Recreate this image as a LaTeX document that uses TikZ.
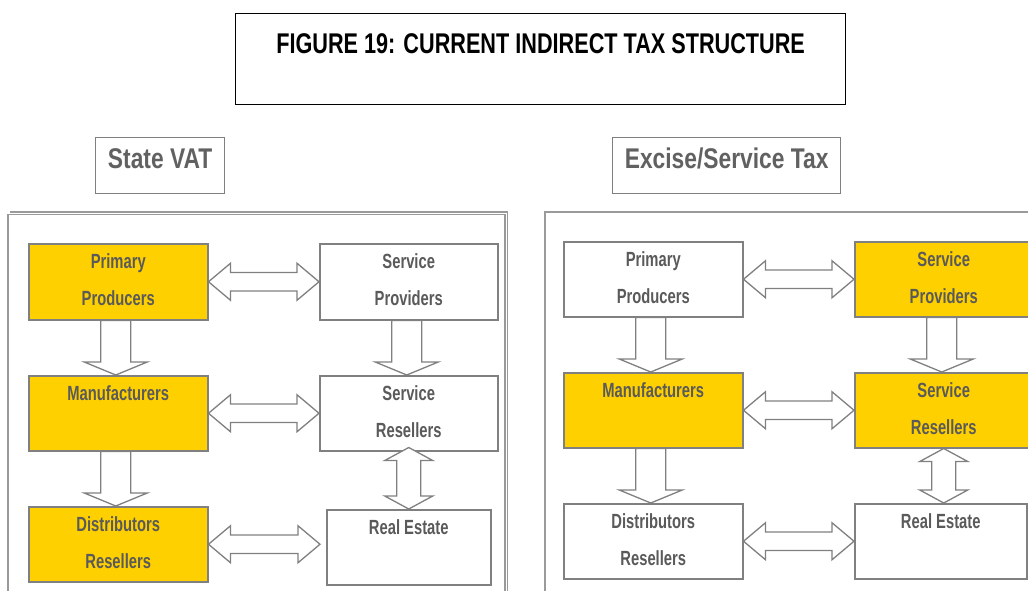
\documentclass[tikz,border=0pt]{standalone}
\usepackage{fontspec}
\setmainfont{Liberation Sans}[FakeStretch=0.8]
\newfontfamily\boxfnt{Liberation Sans}[FakeStretch=0.72]
\newfontfamily\ttlfnt{Liberation Sans}[FakeStretch=0.76]
\usetikzlibrary{calc}
\definecolor{gry}{HTML}{808080}
\definecolor{pnl}{HTML}{9A9A9A}
\definecolor{txt}{HTML}{5A5A5A}
\definecolor{hdt}{HTML}{616161}
\definecolor{ylw}{HTML}{FFD000}
\newcommand\hdarrow[2]{\draw[arr] let \p1=(#1), \p2=(#2) in
  (\x1,\y1) -- (\x1+22pt,\y1+18.5pt) -- (\x1+22pt,\y1+9.2pt) -- (\x2-22pt,\y1+9.2pt) -- (\x2-22pt,\y1+18.5pt) -- (\x2,\y1)
  -- (\x2-22pt,\y1-18.5pt) -- (\x2-22pt,\y1-9.2pt) -- (\x1+22pt,\y1-9.2pt) -- (\x1+22pt,\y1-18.5pt) -- cycle;}
\newcommand\dnarrow[3]{\draw[arr] let \p1=($(#1.south)+(#3,0)$), \p2=(#2.north) in
  (\x1-15pt,\y1) -- (\x1+15pt,\y1) -- (\x1+15pt,\y2+13pt) -- (\x1+31.5pt,\y2+13pt) -- (\x1,\y2)
  -- (\x1-31.5pt,\y2+13pt) -- (\x1-15pt,\y2+13pt) -- cycle;}
\newcommand\vdarrow[3]{\draw[arr] let \p1=($(#1.south)+(0,-#3)$), \p2=(#2.north) in
  (\x1,\y1) -- (\x1+24pt,\y1-13pt) -- (\x1+12pt,\y1-13pt) -- (\x1+12pt,\y2+13pt) -- (\x1+24pt,\y2+13pt) -- (\x1,\y2)
  -- (\x1-24pt,\y2+13pt) -- (\x1-12pt,\y2+13pt) -- (\x1-12pt,\y1-13pt) -- (\x1-24pt,\y1-13pt) -- cycle;}
\begin{document}
\begin{tikzpicture}[x=1pt,y=-1pt,
  box/.style={draw=gry, line width=1.5pt, minimum width=179pt, minimum height=76pt, inner sep=0pt,
    align=center, text=txt, font=\boxfnt\bfseries\fontsize{20.5}{37}\selectfont, anchor=north west,
    execute at end node=\rule[-4pt]{0pt}{0pt}},
  yb/.style={box, fill=ylw},
  wb/.style={box, fill=white},
  arr/.style={draw=gry, line width=1.3pt, fill=white, line join=miter},
  hdbox/.style={draw=gry, line width=1.3pt, minimum height=56pt, inner sep=0pt, text depth=14pt,
    text=hdt, font=\fontsize{28.5}{30}\selectfont\bfseries, anchor=north west},
  panel/.style={draw=pnl, line width=1.2pt}]
\useasboundingbox (0,0) rectangle (1028,590);
\clip (0,0) rectangle (1028,590);
\fill[white] (0,0) rectangle (1028,590);

% title
\node[draw=black, line width=1.3pt, minimum width=610pt, minimum height=91pt, inner sep=0pt, anchor=north west,
  align=center, font=\ttlfnt\bfseries\fontsize{28.5}{31}\selectfont] (title) at (235,13)
  {FIGURE 19: CURRENT INDIRECT TAX STRUCTURE\\ \mbox{}};

% headers
\node[hdbox, minimum width=129pt] (hvat) at (95,137) {State VAT};
\node[hdbox, minimum width=228pt] (hexc) at (612,137) {Excise/Service Tax};

% panels
\draw[panel] (8,214.5) rectangle (505,640);
\draw[panel] (10,212) -- (507.5,212) -- (507.5,640);
\draw[panel] (545,212) rectangle (1060,640);

% left panel boxes
\node[yb] (pp) at (28,243) {Primary\\Producers};
\node[wb, minimum width=178pt] (sp) at (319,243) {Service\\Providers};
\node[yb, minimum height=75pt] (mf) at (28,375) {Manufacturers\\ \mbox{}};
\node[wb, minimum width=178pt, minimum height=75pt] (sr) at (319,375) {Service\\Resellers};
\node[yb, minimum height=75pt] (dr) at (28,506) {Distributors\\Resellers};
\node[wb, minimum width=164pt, minimum height=75pt] (re) at (326,509) {Real Estate\\ \mbox{}};

% right panel boxes
\node[wb, minimum height=75pt] (pp2) at (563,241) {Primary\\Producers};
\node[yb, minimum width=178pt, minimum height=75pt] (sp2) at (854,241) {Service\\Providers};
\node[yb, minimum height=75pt] (mf2) at (563,372) {Manufacturers\\ \mbox{}};
\node[yb, minimum width=178pt, minimum height=75pt] (sr2) at (854,372) {Service\\Resellers};
\node[wb, minimum height=75pt] (dr2) at (563,503) {Distributors\\Resellers};
\node[wb, minimum width=172pt, minimum height=75pt] (re2) at (854,503) {Real Estate\\ \mbox{}};

\coordinate (reL) at ($(re.west)+(-6,-3)$);

% arrows left
\hdarrow{pp.east}{sp.west}
\hdarrow{mf.east}{sr.west}
\hdarrow{dr.east}{reL}
\dnarrow{pp}{mf}{-2.5}
\dnarrow{mf}{dr}{-2.5}
\dnarrow{sp}{sr}{-2}
\vdarrow{sr}{re}{4}

% arrows right
\hdarrow{pp2.east}{sp2.west}
\hdarrow{mf2.east}{sr2.west}
\hdarrow{dr2.east}{re2.west}
\dnarrow{pp2}{mf2}{-2.5}
\dnarrow{mf2}{dr2}{-2.5}
\dnarrow{sp2}{sr2}{-2}
\vdarrow{sr2}{re2}{0}
\end{tikzpicture}
\end{document}
